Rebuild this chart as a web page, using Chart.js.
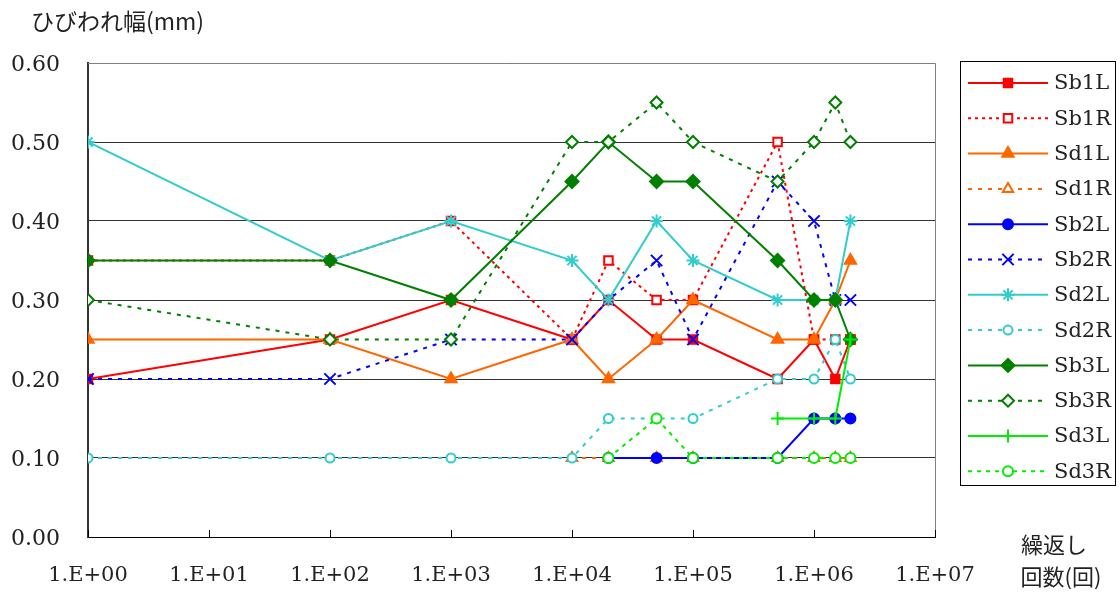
<!DOCTYPE html>
<html>
<head>
<meta charset="utf-8">
<script src="https://cdn.jsdelivr.net/npm/chart.js@4"></script>
<style>
body { margin: 0; background: #fff; }
</style>
</head>
<body>
<canvas id="crackChart" width="1120" height="594"></canvas>
<script>
// 繰返し回数
const cycles = [1, 1e2, 1e3, 1e4, 2e4, 5e4, 1e5, 5e5, 1e6, 1.5e6, 2e6];

// ひびわれ幅(mm)
const Sb1L = [0.20, 0.25, 0.30, 0.25, 0.30, 0.25, 0.25, 0.20, 0.25, 0.20, 0.25];
const Sb1R = [0.35, 0.35, 0.40, 0.25, 0.35, 0.30, 0.30, 0.50, 0.25, 0.25, 0.25];
const Sd1L = [0.25, 0.25, 0.20, 0.25, 0.20, 0.25, 0.30, 0.25, 0.25, 0.30, 0.35];
const Sd1R = [null, null, null, 0.10, 0.10, 0.10, 0.10, 0.10, 0.10, 0.10, 0.10];
const Sb2L = [null, null, null, null, 0.10, 0.10, 0.10, 0.10, 0.15, 0.15, 0.15];
const Sb2R = [0.20, 0.20, 0.25, 0.25, 0.30, 0.35, 0.25, 0.45, 0.40, 0.30, 0.30];
const Sd2L = [0.50, 0.35, 0.40, 0.35, 0.30, 0.40, 0.35, 0.30, 0.30, 0.30, 0.40];
const Sd2R = [0.10, 0.10, 0.10, 0.10, 0.15, 0.15, 0.15, 0.20, 0.20, 0.25, 0.20];
const Sb3L = [0.35, 0.35, 0.30, 0.45, 0.50, 0.45, 0.45, 0.35, 0.30, 0.30, 0.25];
const Sb3R = [0.30, 0.25, 0.25, 0.50, 0.50, 0.55, 0.50, 0.45, 0.50, 0.55, 0.50];
const Sd3L = [null, null, null, null, null, null, null, 0.15, 0.15, 0.15, 0.25];
const Sd3R = [null, null, null, null, 0.10, 0.15, 0.10, 0.10, 0.10, 0.10, 0.10];

const xTicks = [1, 1e1, 1e2, 1e3, 1e4, 1e5, 1e6, 1e7];
const xTickLabels = ['1.E+00', '1.E+01', '1.E+02', '1.E+03', '1.E+04', '1.E+05', '1.E+06', '1.E+07'];
const yTicks = [0, 0.1, 0.2, 0.3, 0.4, 0.5, 0.6];

const serif = "'DejaVu Serif', serif";
const jp = "'Noto Sans CJK JP', sans-serif";

function series(label, values, color, dash, pointStyle, filled, radius, order) {
    return {
        label: label,
        data: cycles.map((c, i) => ({x: c, y: values[i]})),
        borderColor: color,
        borderWidth: 2,
        borderDash: dash,
        pointStyle: pointStyle,
        pointRadius: radius,
        pointHoverRadius: radius,
        pointBorderColor: color,
        pointBackgroundColor: filled ? color : '#fff',
        pointBorderWidth: 2,
        fill: false,
        tension: 0,
        order: order
    };
}

const datasets = [
    series('Sb1L', Sb1L, '#ff0000', [], 'rect', true, 6, 12),
    series('Sb1R', Sb1R, '#ff0000', [3, 4], 'rect', false, 6, 11),
    series('Sd1L', Sd1L, '#ff6600', [], 'triangle', true, 6.5, 10),
    series('Sd1R', Sd1R, '#ff6600', [4, 6], 'triangle', false, 6, 9),
    series('Sb2L', Sb2L, '#0000ff', [], 'circle', true, 5, 8),
    series('Sb2R', Sb2R, '#0000ff', [4, 6], 'crossRot', false, 8, 7),
    series('Sd2L', Sd2L, '#33cccc', [], 'star', false, 6.5, 6),
    series('Sd2R', Sd2R, '#33cccc', [4, 6], 'circle', false, 4.5, 5),
    series('Sb3L', Sb3L, '#008000', [], 'rectRot', true, 6.5, 4),
    series('Sb3R', Sb3R, '#008000', [4, 6], 'rectRot', false, 6, 3),
    series('Sd3L', Sd3L, '#00ee00', [], 'cross', false, 6.5, 2),
    series('Sd3R', Sd3R, '#00ee00', [4, 5], 'circle', false, 5, 1)
];

// 枠と内向きの目盛り
const frame = {
    id: 'frame',
    beforeDatasetsDraw(chart) {
        const ctx = chart.ctx;
        const a = chart.chartArea;
        const x = chart.scales.x;
        ctx.save();
        ctx.strokeStyle = '#808080';
        ctx.lineWidth = 1;
        ctx.beginPath();
        ctx.moveTo(a.left, a.top + 0.5);
        ctx.lineTo(a.right + 0.5, a.top + 0.5);
        ctx.lineTo(a.right + 0.5, a.bottom);
        ctx.stroke();
        ctx.strokeStyle = '#000';
        ctx.beginPath();
        xTicks.forEach(v => {
            const px = Math.round(x.getPixelForValue(v)) + 0.5;
            ctx.moveTo(px, a.bottom);
            ctx.lineTo(px, a.bottom - 7);
        });
        ctx.stroke();
        ctx.restore();
    }
};

// 凡例とタイトル
const legendBox = {
    id: 'legendBox',
    afterDraw(chart) {
        const ctx = chart.ctx;
        ctx.save();
        ctx.fillStyle = '#222';
        ctx.textBaseline = 'middle';
        ctx.font = '23px ' + jp;
        ctx.textAlign = 'left';
        ctx.fillText('ひびわれ幅(mm)', 31, 21);
        ctx.font = '22px ' + jp;
        ctx.textAlign = 'center';
        ctx.fillText('繰返し', 1054, 545);
        ctx.fillText('回数(回)', 1061, 577);

        ctx.strokeStyle = '#000';
        ctx.lineWidth = 1;
        ctx.strokeRect(960.5, 61.5, 155, 424);
        chart.data.datasets.forEach((ds, i) => {
            const y = 83 + i * 35.3;
            ctx.strokeStyle = ds.borderColor;
            ctx.lineWidth = 2;
            ctx.setLineDash(ds.borderDash);
            ctx.beginPath();
            ctx.moveTo(968, y);
            ctx.lineTo(1048, y);
            ctx.stroke();
            ctx.setLineDash([]);
            ctx.fillStyle = ds.pointBackgroundColor;
            ctx.strokeStyle = ds.pointBorderColor;
            ctx.lineWidth = 2;
            Chart.helpers.drawPoint(ctx, {pointStyle: ds.pointStyle, radius: ds.pointRadius, rotation: 0, borderWidth: 2}, 1008, y);
            ctx.fillStyle = '#222';
            ctx.font = '21px ' + serif;
            ctx.textAlign = 'left';
            ctx.fillText(ds.label, 1054, y + 1);
        });
        ctx.restore();
    }
};

const config = {
    type: 'line',
    data: { datasets: datasets },
    options: {
        responsive: false,
        animation: false,
        events: [],
        layout: { padding: { top: 63, right: 185, bottom: 0, left: 0 } },
        plugins: {
            legend: { display: false },
            tooltip: { enabled: false }
        },
        scales: {
            x: {
                type: 'logarithmic',
                min: 1,
                max: 1e7,
                afterBuildTicks: scale => { scale.ticks = xTicks.map(v => ({value: v})); },
                afterFit: scale => { scale.height = 57; },
                grid: { display: false, drawTicks: false },
                border: { color: '#000', width: 1 },
                ticks: {
                    autoSkip: false,
                    maxRotation: 0,
                    padding: 26,
                    color: '#222',
                    font: { family: serif, size: 21 },
                    callback: (v, i) => xTickLabels[i]
                }
            },
            y: {
                min: 0,
                max: 0.6,
                afterBuildTicks: scale => { scale.ticks = yTicks.map(v => ({value: v})); },
                afterFit: scale => { scale.width = 88; },
                grid: { color: '#333', lineWidth: 1, drawTicks: false },
                border: { color: '#333', width: 2 },
                ticks: {
                    padding: 28,
                    labelOffset: 2,
                    color: '#222',
                    font: { family: serif, size: 22 },
                    callback: v => v.toFixed(2)
                }
            }
        }
    },
    plugins: [frame, legendBox]
};

const chart = new Chart(document.getElementById('crackChart'), config);
</script>
</body>
</html>
